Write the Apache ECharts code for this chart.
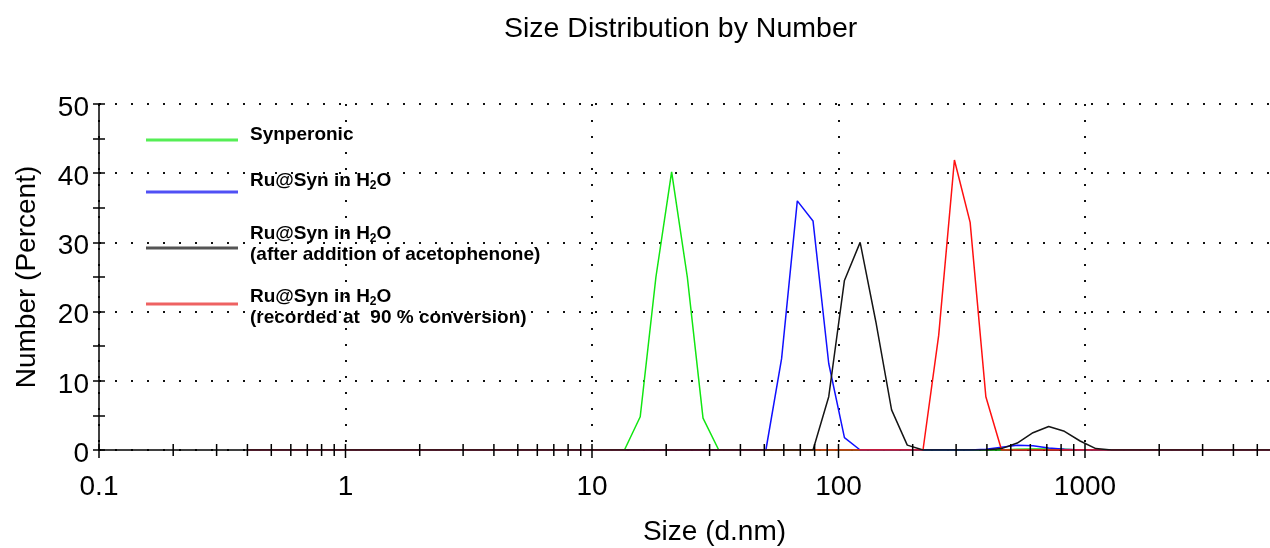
<!DOCTYPE html>
<head>
    <meta charset="utf-8">
    <script type="text/javascript" src="https://cdn.jsdelivr.net/npm/echarts@6/dist/echarts.min.js"></script>
</head>
<body style="height: 548px; margin: 0; background: #fff">
<div id="container" style="width: 1270px; height: 548px"></div>
<script type="text/javascript">
    var FONT = '"Liberation Sans", Arial, sans-serif';

    // size (d.nm), number (%)
    var synperonic = [[0.4, 0], [13.54, 0], [15.69, 4.8], [18.17, 25], [21.04, 40.2], [24.36, 25], [28.21, 4.6],
        [32.67, 0], [458.7, 0], [531.2, 0.1], [615.1, 0.15], [712.4, 0.15], [825, 0.1], [955.4, 0], [10000, 0]];
    var ruSyn = [[0.4, 0], [50.75, 0], [58.77, 13.2], [68.06, 36.0], [78.82, 33.1], [91.28, 12.5], [105.7, 1.8],
        [122.4, 0], [342.0, 0], [396.1, 0.1], [458.7, 0.4], [531.2, 0.7], [615.1, 0.6], [712.4, 0.3], [825, 0.1],
        [955.4, 0], [10000, 0]];
    var ruSynAceto = [[0.4, 0], [78.82, 0], [91.28, 7.7], [105.7, 24.5], [122.4, 30.0], [141.8, 18.5], [164.2, 5.8],
        [190.1, 0.7], [220.2, 0], [396.1, 0], [458.7, 0.2], [531.2, 1.0], [615.1, 2.5], [712.4, 3.4], [825, 2.7],
        [955.4, 1.3], [1106, 0.2], [1281, 0], [10000, 0]];
    var ruSyn90 = [[0.4, 0], [220.2, 0], [255.0, 16.6], [295.3, 41.9], [342.0, 32.9], [396.1, 7.7], [458.7, 0],
        [10000, 0]];

    var names = ['Synperonic', 'Ru@Syn in H2O', 'Ru@Syn in H2O (after addition of acetophenone)',
        'Ru@Syn in H2O (recorded at  90 % conversion)'];
    var legendText = [
        '{t|Synperonic}',
        '{t|Ru@Syn in H}{s|2}{t|O}',
        '{t|Ru@Syn in H}{s|2}{t|O}\n{t|(after addition of acetophenone)}',
        '{t|Ru@Syn in H}{s|2}{t|O}\n{t|(recorded at  90 % conversion)}'
    ];
    var lineColors = ['#11e611', '#1010ff', '#151515', '#ff1010'];
    var legendColors = ['#55ee55', '#5050f5', '#555555', '#ee6262'];

    var majorTicks = [0.1, 1, 10, 100, 1000];
    var minorTicks = [0.2, 0.3, 0.4, 0.5, 0.6, 0.7, 0.8, 0.9, 2, 3, 4, 5, 6, 7, 8, 9,
        20, 30, 40, 50, 60, 70, 80, 90, 200, 300, 400, 500, 600, 700, 800, 900,
        2000, 3000, 4000, 5000];

    var dom = document.getElementById("container");
    var myChart = echarts.init(dom);

    // one legend block per entry so each can sit where the original has it
    var legendTop = [125.5, 171.5, 224.5, 287.5];
    var legendPad = [[0, 0, 10, 7], [0, 0, 22, 7], [0, 0, 7, 7], [7, 0, 0, 7]];
    var legends = names.map(function (n, i) {
        return {
            data: [{name: n, itemStyle: {color: legendColors[i]}}],
            left: 146,
            top: legendTop[i],
            orient: 'vertical',
            padding: 0,
            icon: 'rect',
            itemWidth: 92,
            itemHeight: 3,
            selectedMode: false,
            formatter: function () { return legendText[i]; },
            textStyle: {
                padding: legendPad[i],
                rich: {
                    t: {fontFamily: FONT, fontSize: 19, fontWeight: 'bold', color: '#000', lineHeight: 21},
                    s: {fontFamily: FONT, fontSize: 12, fontWeight: 'bold', color: '#000', lineHeight: 12, verticalAlign: 'bottom'}
                }
            }
        };
    });

    function tickSeries(vals, up, down) {
        return {
            type: 'custom',
            silent: true,
            clip: false,
            z: 5,
            data: vals.map(function (v) { return [v, 0]; }),
            renderItem: function (params, api) {
                var p = api.coord([api.value(0), 0]);
                return {
                    type: 'line',
                    shape: {x1: p[0], y1: p[1] - up, x2: p[0], y2: p[1] + down},
                    style: {stroke: '#000', lineWidth: 1.5}
                };
            }
        };
    }

    var dotted = {color: '#111', width: 2, type: [2, 14]};

    var option = {
        animation: false,
        title: {
            text: 'Size Distribution by Number',
            left: 504,
            top: 13,
            padding: 0,
            textStyle: {fontFamily: FONT, fontSize: 28.5, fontWeight: 'normal', color: '#000', lineHeight: 32}
        },
        legend: legends,
        grid: {left: 99, right: 0, top: 104, bottom: 98, outerBoundsMode: 'none', containLabel: false},
        xAxis: {
            type: 'log',
            min: 0.1,
            max: 5630,
            name: 'Size (d.nm)',
            nameLocation: 'middle',
            nameGap: 65,
            nameTextStyle: {fontFamily: FONT, fontSize: 28, color: '#000', lineHeight: 34, padding: [0, 0, 0, 60]},
            axisLine: {lineStyle: {color: '#000', width: 1.5}},
            axisTick: {show: false},
            axisLabel: {
                fontFamily: FONT, fontSize: 28, color: '#000', margin: 23, lineHeight: 28,
                showMaxLabel: false,
                formatter: function (v) { return String(+v.toPrecision(6)); }
            },
            splitLine: {show: true, showMaxLine: false, lineStyle: dotted}
        },
        yAxis: [{
            type: 'value',
            position: 'left',
            min: 0,
            max: 50,
            interval: 10,
            name: 'Number (Percent)',
            nameLocation: 'middle',
            nameGap: 55,
            nameTextStyle: {fontFamily: FONT, fontSize: 28, color: '#000', lineHeight: 34},
            axisLine: {show: true, lineStyle: {color: '#000', width: 1.5}},
            axisTick: {show: true, length: 6, lineStyle: {color: '#000', width: 1.5}},
            minorTick: {show: true, splitNumber: 2, length: 6, lineStyle: {color: '#000', width: 1.5}},
            axisLabel: {fontFamily: FONT, fontSize: 28, color: '#000', margin: 10, verticalAlign: 'top', lineHeight: 8},
            splitLine: {show: true, lineStyle: dotted}
        }, {
            type: 'value',
            position: 'left',
            min: 0,
            max: 50,
            interval: 10,
            axisLine: {show: false},
            axisTick: {show: true, inside: true, length: 6, lineStyle: {color: '#000', width: 1.5}},
            minorTick: {show: true, splitNumber: 2, length: 6, lineStyle: {color: '#000', width: 1.5}},
            axisLabel: {show: false},
            splitLine: {show: false}
        }],
        series: [
            {name: names[0], type: 'line', data: synperonic, symbol: 'none', lineStyle: {color: lineColors[0], width: 1.5}, itemStyle: {color: lineColors[0]}},
            {name: names[1], type: 'line', data: ruSyn, symbol: 'none', lineStyle: {color: lineColors[1], width: 1.5}, itemStyle: {color: lineColors[1]}},
            {name: names[3], type: 'line', data: ruSyn90, symbol: 'none', lineStyle: {color: lineColors[3], width: 1.5}, itemStyle: {color: lineColors[3]}},
            {name: names[2], type: 'line', data: ruSynAceto, symbol: 'none', z: 3, lineStyle: {color: lineColors[2], width: 1.5}, itemStyle: {color: lineColors[2]}},
            tickSeries(minorTicks, 6, 6),
            tickSeries(majorTicks, 6, 8)
        ]
    };

    myChart.setOption(option);
</script>
</body>
</html>
